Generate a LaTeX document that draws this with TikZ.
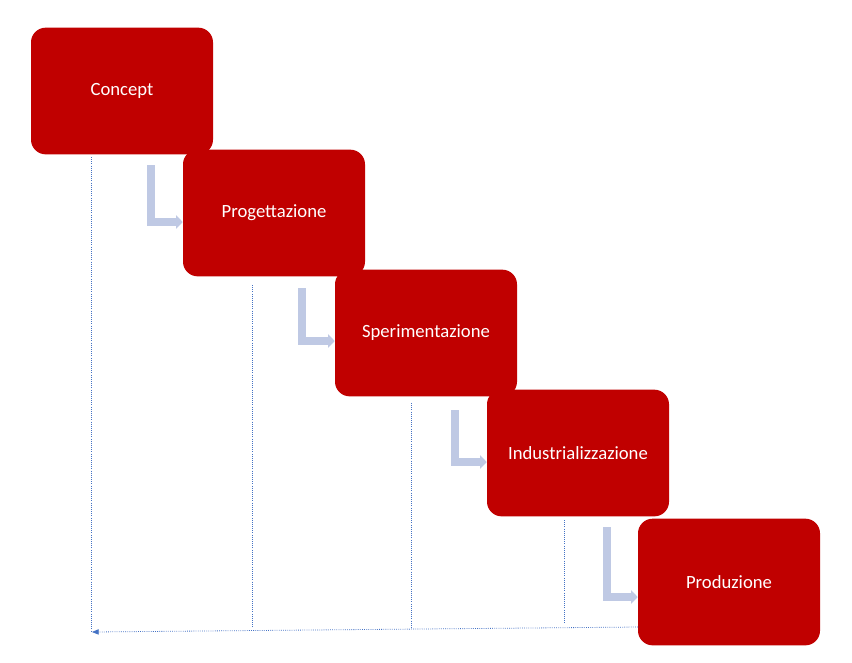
\documentclass[tikz,border=0pt]{standalone}
\usepackage{fontspec}
\setmainfont{Carlito}
\usetikzlibrary{arrows.meta}
\definecolor{boxred}{HTML}{C00000}
\definecolor{bentblue}{HTML}{BFC9E4}
\definecolor{lineblue}{HTML}{4472C4}
\begin{document}
\begin{tikzpicture}[x=0.75pt,y=-0.75pt,%
  % common options for the phase blocks:
  phase/.style = {draw=none, fill=boxred, text=white, rounded corners=11pt,
              minimum width=136.5pt, minimum height=95pt, inner sep=0,
              font=\fontsize{14}{16}\selectfont},
  % common options for the bent arrows:
  bent/.style = {draw=bentblue, line width=6pt,
              -{Triangle[length=5pt,width=10pt]}},
  % common options for the dotted lines:
  guide/.style = {draw=lineblue, densely dotted, line width=0.6pt}]
  \useasboundingbox (0,0) rectangle (852,662);
  \node[phase] (P1) at (122,91) {Concept};
  \node[phase] (P2) at (274,213) {Progettazione};
  \node[phase] (P3) at (426,333) {Sperimentazione};
  \node[phase] (P4) at (578,453) {Industrializzazione};
  \node[phase] (P5) at (729,582) {Produzione};
  % bent arrows
  \coordinate (a1) at (151,165); \coordinate (b1) at (151,222);
  \coordinate (a2) at (302,288); \coordinate (b2) at (302,341);
  \coordinate (a3) at (455,410); \coordinate (b3) at (455,462);
  \coordinate (a4) at (607,527); \coordinate (b4) at (607,597);
  \draw[bent] (a1) -- (b1) -- (P2.west |- b1);
  \draw[bent] (a2) -- (b2) -- (P3.west |- b2);
  \draw[bent] (a3) -- (b3) -- (P4.west |- b3);
  \draw[bent] (a4) -- (b4) -- (P5.west |- b4);
  % dotted guides
  \coordinate (g1) at (91,157);  \coordinate (e1) at (91,631);
  \coordinate (g2) at (252,285); \coordinate (e2) at (252,628);
  \coordinate (g3) at (411,403); \coordinate (e3) at (411,628);
  \coordinate (g4) at (564,520); \coordinate (e4) at (564,624);
  \coordinate (r0) at (638,627); \coordinate (l0) at (92,632);
  \draw[guide] (g1) -- (e1);
  \draw[guide] (g2) -- (e2);
  \draw[guide] (g3) -- (e3);
  \draw[guide] (g4) -- (e4);
  \draw[guide,-{Triangle[length=5pt,width=4pt]}] (r0) -- (l0);
\end{tikzpicture}
\end{document}
